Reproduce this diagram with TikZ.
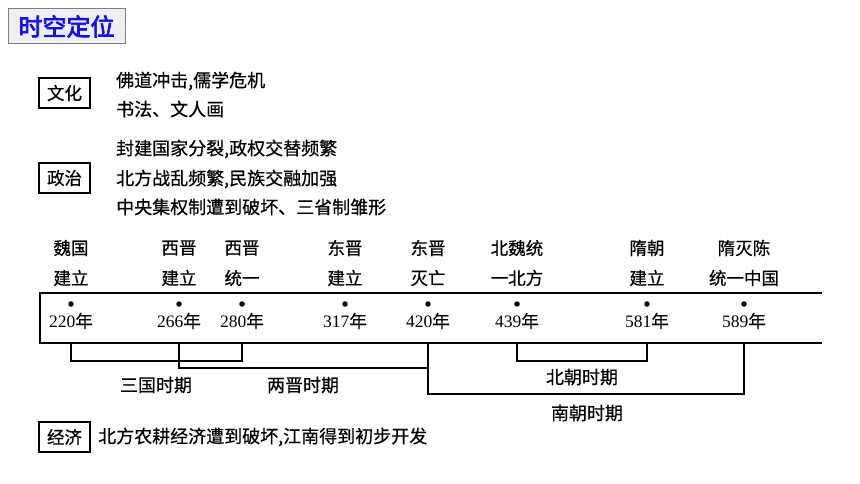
\documentclass[tikz,border=0pt]{standalone}
\usepackage{fontspec}
\setmainfont{Liberation Serif}
\newfontfamily\cjk[FakeBold=0.5]{Noto Sans CJK SC}
\newfontfamily\cjkh[FakeBold=3]{Noto Sans CJK SC}
\newfontfamily\yr{Liberation Serif}
\definecolor{hdrfill}{HTML}{EFEFEF}
\definecolor{hdrdraw}{HTML}{7F7F7F}
\definecolor{hdrtext}{HTML}{1010F0}
\tikzset{
  txt/.style={font=\cjk\fontsize{18}{21}\selectfont, inner sep=0pt},
  tag/.style={draw, line width=1.4pt, font=\cjk\fontsize{17.5}{20}\selectfont, minimum width=51pt, minimum height=30pt, inner sep=0pt},
  ev/.style={font=\cjk\fontsize{17.5}{20}\selectfont, inner sep=0pt, align=center},
  yrs/.style={font=\yr\fontsize{17.5}{20}\selectfont, inner sep=0pt},
  dotm/.style={circle, fill=black, inner sep=0pt, minimum size=5.5pt},
  brk/.style={line width=1.2pt},
  tl/.style={line width=1.4pt}
}
\begin{document}
\begin{tikzpicture}[x=1pt,y=-1pt]
\useasboundingbox (0,0) rectangle (860,484);
% header
\node[draw=hdrdraw, fill=hdrfill, line width=1pt, minimum width=117pt, minimum height=35pt, inner sep=0pt,
      font=\cjkh\fontsize{24}{28}\selectfont, text=hdrtext] (hdr) at (66.5,26.5) {时空定位};
% culture
\node[tag] (wh) at (64.5,93) {文化};
\node[txt, anchor=west] (wh1) at (116,81) {佛道冲击,儒学危机};
\node[txt, anchor=west] (wh2) at (116,109) {书法、文人画};
% politics
\node[tag] (zz) at (64.5,178) {政治};
\node[txt, anchor=west] (zz1) at (116,149) {封建国家分裂,政权交替频繁};
\node[txt, anchor=west] (zz2) at (116,179) {北方战乱频繁,民族交融加强};
\node[txt, anchor=west] (zz3) at (116,207) {中央集权制遭到破坏、三省制雏形};
% timeline frame
\coordinate (tlTR) at (822,293);
\coordinate (tlTL) at (40,293);
\coordinate (tlBL) at (40,343);
\coordinate (tlBR) at (822,343);
\draw[tl] (tlTR) -- (tlTL) -- (tlBL) -- (tlBR);
% events
\foreach \x/\n/\a/\b in {71/220/魏国/建立, 179/266/西晋/建立, 242/280/西晋/统一,
  345/317/东晋/建立, 428/420/东晋/灭亡, 517/439/北魏统/一北方,
  647/581/隋朝/建立, 744/589/隋灭陈/统一中国}{
  \node[ev] (ea\n) at (\x,248) {\a};
  \node[ev] (eb\n) at (\x,278) {\b};
  \node[dotm] (d\n) at (\x,304) {};
  \node[yrs] (y\n) at (\x,321) {\n\cjk 年};
  \coordinate (b\n) at (\x,343);
}
% brackets
\draw[brk] (b220) |- (242,361) coordinate (k280) -- (b280);
\draw[brk] (b266) |- (428,368) coordinate (k420);
\draw[brk] (b420) |- (744,394) coordinate (n589) -- (b589);
\draw[brk] (b439) |- (647,361) coordinate (k581) -- (b581);
\node[txt] (sg) at (156,385) {三国时期};
\node[txt] (lj) at (303,385) {两晋时期};
\node[txt] (bc) at (582,377) {北朝时期};
\node[txt] (nc) at (587,413) {南朝时期};
% economy
\node[tag] (jj) at (64.5,437) {经济};
\node[txt, anchor=west] (jj1) at (98,437) {北方农耕经济遭到破坏,江南得到初步开发};
\end{tikzpicture}
\end{document}
